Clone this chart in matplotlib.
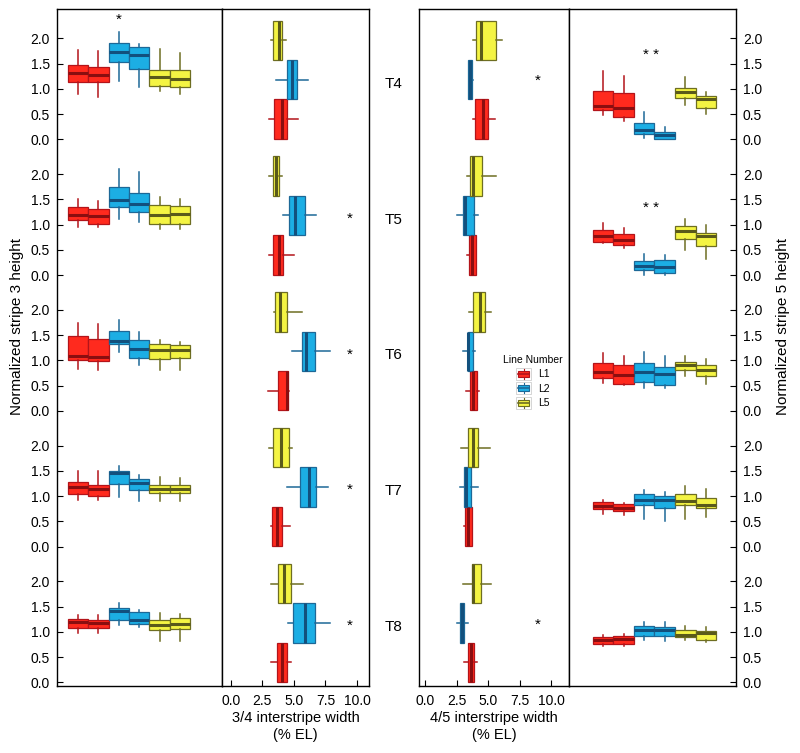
import matplotlib
matplotlib.use('Agg')
import matplotlib.pyplot as plt
from matplotlib.transforms import blended_transform_factory
from matplotlib.legend_handler import HandlerBase
from matplotlib.patches import Rectangle, Patch
from matplotlib.lines import Line2D

plt.rcParams['font.family'] = ['Liberation Sans', 'DejaVu Sans']

# ---------------- data ----------------
rows = ['T4', 'T5', 'T6', 'T7', 'T8']
lines = ['L1', 'L2', 'L5']
yticks_vals = [0.0, 0.5, 1.0, 1.5, 2.0]
yticks_text = ['0.0', '0.5', '1.0', '1.5', '2.0']
xticks_vals = [0.0, 2.5, 5.0, 7.5, 10.0]
xticks_text = ['0.0', '2.5', '5.0', '7.5', '10.0']

# stripe 3 height: per row 6 boxes (L1, L1, L2, L2, L5, L5)
s3_lo = [[0.89, 0.84, 1.15, 1.03, 0.96, 0.90],
         [0.96, 0.96, 1.12, 1.06, 0.91, 0.91],
         [0.82, 0.80, 1.16, 0.91, 0.81, 0.81],
         [0.93, 0.92, 0.98, 0.91, 0.91, 0.91],
         [0.97, 0.97, 1.13, 1.10, 0.82, 0.82]]
s3_q1 = [[1.13, 1.13, 1.54, 1.39, 1.05, 1.04],
         [1.10, 1.02, 1.35, 1.25, 1.01, 1.01],
         [1.00, 0.99, 1.32, 1.05, 1.03, 1.04],
         [1.04, 1.01, 1.24, 1.12, 1.07, 1.07],
         [1.08, 1.08, 1.23, 1.15, 1.04, 1.05]]
s3_med = [[1.32, 1.27, 1.73, 1.66, 1.23, 1.19],
          [1.19, 1.17, 1.49, 1.41, 1.19, 1.21],
          [1.09, 1.07, 1.39, 1.22, 1.20, 1.20],
          [1.18, 1.15, 1.45, 1.27, 1.15, 1.14],
          [1.19, 1.18, 1.41, 1.23, 1.13, 1.15]]
s3_q3 = [[1.47, 1.43, 1.91, 1.83, 1.37, 1.38],
         [1.34, 1.31, 1.74, 1.63, 1.38, 1.36],
         [1.48, 1.42, 1.59, 1.41, 1.33, 1.30],
         [1.28, 1.23, 1.50, 1.34, 1.23, 1.23],
         [1.26, 1.24, 1.47, 1.39, 1.23, 1.27]]
s3_hi = [[1.77, 1.75, 2.12, 1.89, 1.78, 1.70],
         [1.50, 1.47, 2.11, 2.05, 1.54, 1.51],
         [1.74, 1.73, 1.79, 1.57, 1.41, 1.36],
         [1.49, 1.50, 1.59, 1.42, 1.38, 1.36],
         [1.33, 1.33, 1.57, 1.44, 1.37, 1.35]]

# stripe 5 height
s5_lo = [[0.48, 0.37, 0.03, 0.00, 0.67, 0.50],
         [0.63, 0.54, 0.01, 0.00, 0.50, 0.31],
         [0.56, 0.51, 0.45, 0.45, 0.70, 0.54],
         [0.65, 0.62, 0.54, 0.50, 0.54, 0.58],
         [0.73, 0.72, 0.85, 0.82, 0.84, 0.80]]
s5_q1 = [[0.57, 0.44, 0.105, 0.01, 0.81, 0.61],
         [0.65, 0.60, 0.11, 0.05, 0.72, 0.58],
         [0.66, 0.54, 0.58, 0.51, 0.81, 0.69],
         [0.74, 0.70, 0.82, 0.77, 0.82, 0.76],
         [0.77, 0.76, 0.92, 0.92, 0.90, 0.85]]
s5_med = [[0.66, 0.61, 0.18, 0.085, 0.94, 0.80],
          [0.77, 0.69, 0.18, 0.16, 0.87, 0.77],
          [0.76, 0.71, 0.77, 0.73, 0.91, 0.81],
          [0.81, 0.76, 0.93, 0.92, 0.90, 0.83],
          [0.85, 0.86, 1.03, 1.04, 0.95, 0.97]]
s5_q3 = [[0.96, 0.91, 0.32, 0.145, 1.01, 0.86],
         [0.90, 0.81, 0.28, 0.29, 0.97, 0.84],
         [0.95, 0.91, 0.94, 0.86, 0.96, 0.91],
         [0.875, 0.84, 1.05, 1.01, 1.04, 0.97],
         [0.90, 0.92, 1.12, 1.10, 1.04, 1.02]]
s5_hi = [[1.35, 1.25, 0.53, 0.25, 1.23, 0.93],
         [1.04, 0.93, 0.41, 0.40, 1.12, 1.00],
         [1.15, 1.09, 1.16, 1.08, 1.08, 1.03],
         [0.93, 0.87, 1.12, 1.09, 1.21, 1.14],
         [0.95, 0.96, 1.19, 1.19, 1.11, 1.09]]

# 3/4 interstripe width (L1, L2, L5)
w34_lo = [[3.02, 3.57, 3.17], [3.04, 4.10, 3.04], [2.96, 4.87, 3.41], [3.15, 4.44, 3.02], [3.15, 4.52, 3.17]]
w34_q1 = [[3.41, 4.44, 3.36], [3.36, 4.63, 3.36], [3.76, 5.66, 3.49], [3.23, 5.50, 3.36], [3.65, 4.95, 3.75]]
w34_med = [[4.07, 4.82, 3.80], [3.79, 5.08, 3.57], [4.42, 5.95, 3.89], [3.63, 6.21, 3.99], [4.05, 5.87, 4.21]]
w34_q3 = [[4.47, 5.21, 4.05], [4.15, 5.85, 3.79], [4.52, 6.67, 4.44], [4.05, 6.75, 4.58], [4.47, 6.64, 4.76]]
w34_hi = [[5.29, 6.09, 4.34], [5.00, 6.77, 4.07], [4.60, 7.86, 5.61], [4.66, 7.67, 4.84], [4.79, 7.86, 5.69]]

# 4/5 interstripe width (L1, L2, L5)
w45_lo = [[3.78, 3.42, 3.80], [3.36, 2.50, 3.33], [3.28, 3.02, 3.49], [3.07, 2.78, 2.83], [3.09, 2.52, 3.02]]
w45_q1 = [[3.99, 3.44, 4.04], [3.49, 3.05, 3.57], [3.57, 3.39, 3.78], [3.17, 3.07, 3.44], [3.44, 2.76, 3.70]]
w45_med = [[4.59, 3.60, 4.43], [3.75, 3.15, 3.83], [3.78, 3.44, 4.33], [3.39, 3.23, 3.80], [3.68, 2.94, 3.83]]
w45_q3 = [[5.02, 3.76, 5.61], [4.04, 3.88, 4.49], [4.09, 3.78, 4.75], [3.70, 3.65, 4.20], [3.91, 3.13, 4.46]]
w45_hi = [[5.57, 3.78, 6.06], [4.06, 4.20, 5.59], [4.31, 3.94, 5.20], [3.72, 4.23, 5.14], [4.09, 3.44, 5.25]]

# significance marks
star_s3 = [('T4', 3, 2.36, '*')]                 # (row, box position, value, text)
star_w34 = ['T5', 'T6', 'T7', 'T8']
star_w45 = ['T4', 'T8']
star_s5 = [('T4', 1.67, '* *'), ('T5', 1.32, '* *')]

# ---------------- styles ----------------
FILL = {'L1': '#FF2A1E', 'L2': '#1CAEE4', 'L5': '#F4F443'}
EDGE = {'L1': '#B3141A', 'L2': '#1D6897', 'L5': '#6E6E22'}
MED = {'L1': '#8A0E10', 'L2': '#12507D', 'L5': '#5A5A1A'}
box_lines = ['L1', 'L1', 'L2', 'L2', 'L5', 'L5']

STEP = 2.69          # vertical offset between rows (data units)
YLIM = (-0.07, 4 * STEP + 2.58)
HPOS = [0.40, 1.18, 1.96]   # row-relative positions of the horizontal boxes
HW = 0.78

def offset(i):
    return (4 - i) * STEP

def mkstats(lo, q1, med, q3, hi):
    return dict(whislo=lo, q1=q1, med=med, q3=q3, whishi=hi, fliers=[])

def draw(ax, stats, pos, width, ln, horizontal=False):
    kw = dict(positions=[pos], widths=width, showcaps=False, showfliers=False,
              patch_artist=True,
              boxprops=dict(facecolor=FILL[ln], edgecolor=EDGE[ln], linewidth=0.9),
              whiskerprops=dict(color=EDGE[ln], linewidth=1.1),
              medianprops=dict(color=MED[ln], linewidth=2.2, solid_capstyle='butt'))
    if horizontal:
        try:
            ax.bxp([stats], orientation='horizontal', **kw)
        except TypeError:
            ax.bxp([stats], vert=False, **kw)
    else:
        ax.bxp([stats], **kw)

fig = plt.figure(figsize=(8.0, 7.53), dpi=100)
W, H = 800.0, 753.0
def axpx(x0, x1, y0, y1):
    return fig.add_axes([x0 / W, 1 - y1 / H, (x1 - x0) / W, (y1 - y0) / H])

ax1 = axpx(57, 222, 9, 686)
ax2 = axpx(222, 369, 9, 686)
ax3 = axpx(419, 569, 9, 686)
ax4 = axpx(569, 736, 9, 686)

for ax in (ax1, ax2, ax3, ax4):
    ax.set_ylim(*YLIM)
    for sp in ax.spines.values():
        sp.set_linewidth(1.0)
        sp.set_color('black')
    ax.tick_params(direction='in', length=4, width=0.8, labelsize=10, colors='black')

# column 1 & 4: vertical boxes; columns 2 & 3: horizontal boxes
for i in range(len(rows)):
    off = offset(i)
    for j in range(6):
        ln = box_lines[j]
        st = mkstats(s3_lo[i][j] + off, s3_q1[i][j] + off, s3_med[i][j] + off,
                     s3_q3[i][j] + off, s3_hi[i][j] + off)
        draw(ax1, st, j + 1, 1.0, ln)
        st = mkstats(s5_lo[i][j] + off, s5_q1[i][j] + off, s5_med[i][j] + off,
                     s5_q3[i][j] + off, s5_hi[i][j] + off)
        draw(ax4, st, j + 1, 1.0, ln)
    for k, ln in enumerate(lines):
        st = mkstats(w34_lo[i][k], w34_q1[i][k], w34_med[i][k], w34_q3[i][k], w34_hi[i][k])
        draw(ax2, st, HPOS[k] + off, HW, ln, horizontal=True)
        st = mkstats(w45_lo[i][k], w45_q1[i][k], w45_med[i][k], w45_q3[i][k], w45_hi[i][k])
        draw(ax3, st, HPOS[k] + off, HW, ln, horizontal=True)

ax1.set_xlim(-0.03, 8.06)
ax4.set_xlim(-0.65, 7.46)
ax2.set_xlim(-0.7, 10.95)
ax3.set_xlim(-0.47, 11.4)
for ax in (ax1, ax2, ax3, ax4):
    ax.set_ylim(*YLIM)

ytick_pos = [offset(i) + v for i in range(len(rows)) for v in yticks_vals]
ytick_lab = [t for i in range(len(rows)) for t in yticks_text]

ax1.set_yticks(ytick_pos)
ax1.set_yticklabels(ytick_lab)
ax1.tick_params(axis='y', pad=5)
ax1.set_xticks([])

ax4.yaxis.tick_right()
ax4.set_yticks(ytick_pos)
ax4.set_yticklabels(ytick_lab)
ax4.tick_params(axis='y', pad=5, right=True, left=False)
ax4.set_xticks([])

for ax in (ax2, ax3):
    ax.set_yticks([])
    ax.set_xticks(xticks_vals)
    ax.set_xticklabels(xticks_text)
    ax.tick_params(axis='x', pad=6)

ax2.set_xlabel('3/4 interstripe width\n(% EL)', fontsize=10.5, labelpad=2, linespacing=1.3)
ax3.set_xlabel('4/5 interstripe width\n(% EL)', fontsize=10.5, labelpad=2, linespacing=1.3)

fig.text(17 / W, 1 - 326 / H, 'Normalized stripe 3 height', rotation=90,
         ha='center', va='center', fontsize=11)
fig.text(783 / W, 1 - 326 / H, 'Normalized stripe 5 height', rotation=90,
         ha='center', va='center', fontsize=11)

# row labels
tr = blended_transform_factory(ax2.transAxes, ax2.transData)
for i, r in enumerate(rows):
    ax2.text(1.17, offset(i) + 1.1, r, transform=tr, ha='center', va='center',
             fontsize=11, clip_on=False)

# asterisks
for r, p, v, t in star_s3:
    i = rows.index(r)
    ax1.text(p, offset(i) + v, t, ha='center', va='center', fontsize=11)
for r in star_w34:
    i = rows.index(r)
    ax2.text(9.4, offset(i) + 1.12, '*', ha='center', va='center', fontsize=11)
for r in star_w45:
    i = rows.index(r)
    ax3.text(8.9, offset(i) + 1.15, '*', ha='center', va='center', fontsize=11)
for r, v, t in star_s5:
    i = rows.index(r)
    ax4.text(3.32, offset(i) + v, t, ha='center', va='center', fontsize=11)

# legend
class BoxHandler(HandlerBase):
    def create_artists(self, legend, orig_handle, xdescent, ydescent, width, height,
                       fontsize, trans):
        fc = orig_handle.get_facecolor()
        ec = orig_handle.get_edgecolor()
        x0, y0 = -xdescent, -ydescent
        bg = Rectangle((x0, y0), width, height, facecolor='white', edgecolor='#cfcfcf',
                       linewidth=0.6, transform=trans)
        wl = Line2D([x0 + width / 2] * 2, [y0 + 0.08 * height, y0 + 0.92 * height],
                    color=ec, linewidth=0.8, transform=trans)
        bx = Rectangle((x0 + 0.12 * width, y0 + 0.25 * height), 0.76 * width, 0.5 * height,
                       facecolor=fc, edgecolor=ec, linewidth=0.8, transform=trans)
        md = Line2D([x0 + 0.12 * width, x0 + 0.88 * width], [y0 + height / 2] * 2,
                    color=ec, linewidth=1.2, transform=trans)
        return [bg, wl, bx, md]

handles = [Patch(facecolor=FILL[l], edgecolor=EDGE[l]) for l in lines]
leg = fig.legend(handles, lines, loc='center', bbox_to_anchor=(533 / W, 1 - 382 / H),
                 frameon=False, title='Line Number', fontsize=7.5, title_fontsize=7.5,
                 handlelength=1.4, handleheight=1.4, labelspacing=0.25, handletextpad=0.7,
                 borderpad=0.2, handler_map={h: BoxHandler() for h in handles})

fig.savefig('out.png', dpi=100)
